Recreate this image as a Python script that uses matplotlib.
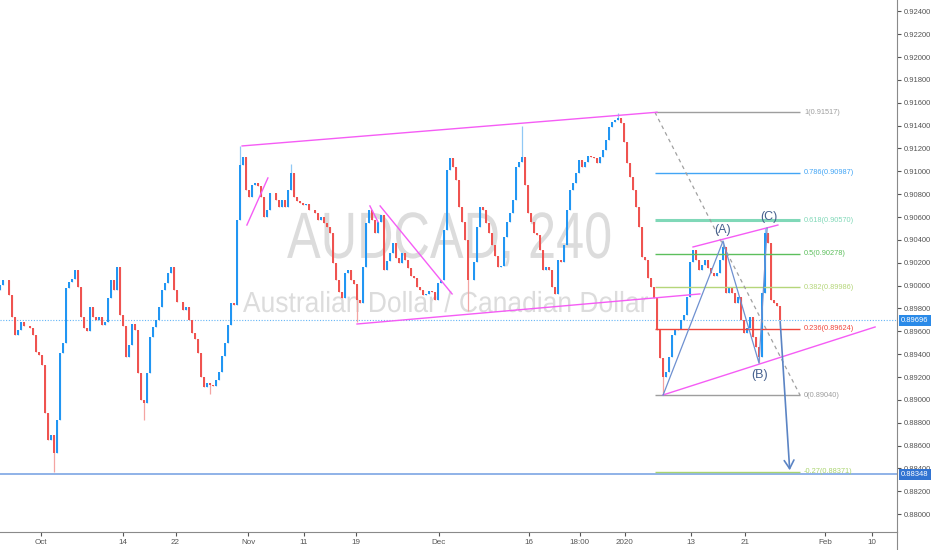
import matplotlib
matplotlib.use("Agg")
from matplotlib import pyplot as plt
from matplotlib.textpath import TextPath
from matplotlib.patches import PathPatch
from matplotlib.font_manager import FontProperties
from matplotlib.transforms import Affine2D, blended_transform_factory
from matplotlib.lines import Line2D
import numpy as np

# AUDCAD 240 closes (one every ~3 px)
closes = [
    0.90005, 0.90049, 0.90049, 0.89918, 0.89725, 0.89568, 0.89612, 0.89682, 0.89647, 0.89647,
    0.89629, 0.89568, 0.89419, 0.89393, 0.89305, 0.88885, 0.88649, 0.88693, 0.88535, 0.88824,
    0.89410, 0.89498, 0.89979, 0.90032, 0.90058, 0.90137, 0.89988, 0.89725, 0.89629, 0.89603,
    0.89813, 0.89725, 0.89699, 0.89725, 0.89655, 0.89682, 0.89892, 0.90049, 0.89962, 0.90163,
    0.89743, 0.89647, 0.89375, 0.89480, 0.89664, 0.89612, 0.89235, 0.88999, 0.88972, 0.89235,
    0.89550, 0.89638, 0.89699, 0.89813, 0.89962, 0.90023, 0.90110, 0.90163, 0.89962, 0.89857,
    0.89857, 0.89787, 0.89813, 0.89699, 0.89585, 0.89533, 0.89410, 0.89200, 0.89113, 0.89148,
    0.89130, 0.89122, 0.89174, 0.89244, 0.89384, 0.89498, 0.89655, 0.89848, 0.89830, 0.90574,
    0.91055, 0.91125, 0.90837, 0.90775, 0.90880, 0.90898, 0.90872, 0.90775, 0.90600, 0.90661,
    0.90810, 0.90810, 0.90749, 0.90687, 0.90749, 0.90687, 0.90837, 0.90985, 0.90775, 0.90740,
    0.90722, 0.90705, 0.90714, 0.90661, 0.90661, 0.90635, 0.90574, 0.90600, 0.90548, 0.90513,
    0.90460, 0.90198, 0.90049, 0.89944, 0.89892, 0.90110, 0.90137, 0.90049, 0.90014, 0.89874,
    0.89848, 0.90163, 0.90548, 0.90661, 0.90574, 0.90460, 0.90557, 0.90617, 0.90137, 0.90215,
    0.90285, 0.90373, 0.90242, 0.90198, 0.90285, 0.90224, 0.90154, 0.90084, 0.90067, 0.89988,
    0.89962, 0.89918, 0.89927, 0.89953, 0.89944, 0.89874, 0.90023, 0.90049, 0.90487, 0.91012,
    0.91116, 0.91038, 0.90924, 0.90687, 0.90557, 0.90399, 0.90049, 0.90049, 0.90207, 0.90513,
    0.90687, 0.90661, 0.90548, 0.90460, 0.90355, 0.90259, 0.90163, 0.90172, 0.90425, 0.90557,
    0.90635, 0.90749, 0.91038, 0.91082, 0.91125, 0.90880, 0.90635, 0.90557, 0.90460, 0.90443,
    0.90312, 0.90137, 0.90163, 0.90137, 0.89988, 0.89927, 0.90224, 0.90207, 0.90355, 0.90661,
    0.90837, 0.90898, 0.90985, 0.91099, 0.91038, 0.91082, 0.91134, 0.91125, 0.91116, 0.91073,
    0.91125, 0.91187, 0.91274, 0.91388, 0.91432, 0.91449, 0.91467, 0.91422, 0.91257, 0.91073,
    0.90950, 0.90837, 0.90687, 0.90513, 0.90250, 0.90224, 0.90067, 0.89988, 0.89892, 0.89612,
    0.89367, 0.89200, 0.89244, 0.89375, 0.89568, 0.89612, 0.89620, 0.89699, 0.89743, 0.89900,
    0.90207, 0.90312, 0.90224, 0.90137, 0.90180, 0.90224, 0.90154, 0.90110, 0.90084, 0.90110,
    0.90224, 0.90338, 0.89935, 0.89979, 0.89935, 0.89848, 0.89900, 0.89699, 0.89585, 0.89629,
    0.89725, 0.89550, 0.89463, 0.89375, 0.89935, 0.90460, 0.90373, 0.89874, 0.89848, 0.89822,
    0.89696,
]
first_open = 0.89960

# a few wick extremes that stick out of the bodies (bar index: price)
wick_high = {80: 0.91222, 174: 0.91400, 206: 0.91510, 241: 0.90390, 255: 0.90504, 97: 0.91060}
wick_low = {18: 0.88369, 48: 0.88824, 70: 0.89052, 119: 0.89681, 156: 0.89780, 221: 0.89040, 253: 0.89322}

# x axis labels (bar index) and price axis
xtick_pos = [13.5, 41, 58.5, 82.7, 101.3, 118.7, 146.3, 176.3, 193.3, 208.3, 230.3, 248.3, 275, 290.7]
xtick_lab = ["Oct", "14", "22", "Nov", "11", "19", "Dec", "16", "18:00", "2020", "13", "21", "Feb", "10"]
yticks = np.arange(0.880, 0.9241, 0.002)

last_price = 0.89696
target_price = 0.88348

# fibonacci retracement
fib_lvl = ["1", "0.786", "0.618", "0.5", "0.382", "0.236", "0", "-0.27"]
fib_price = [0.91517, 0.90987, 0.90570, 0.90278, 0.89986, 0.89624, 0.89040, 0.88371]
fib_col = ["#9e9e9e", "#42a5f5", "#80d8b8", "#5cbf5c", "#b5d67a", "#f0463c", "#9e9e9e", "#a9d46f"]

# drawn trend lines (bar index, price)
pink_lines = [
    [(80.7, 0.91222), (219, 0.91517)],
    [(119, 0.89664), (233.3, 0.89927)],
    [(82.3, 0.90530), (89.3, 0.90942)],
    [(123.3, 0.90697), (126, 0.90557)],
    [(126.7, 0.90697), (150.7, 0.89927)],
    [(231, 0.90338), (259.3, 0.90530)],
    [(221, 0.89043), (291.7, 0.89638)],
]
wave_x = [221, 241, 253, 255.7]
wave_y = [0.89040, 0.90390, 0.89322, 0.90504]
wave_lab = ["(A)", "(B)", "(C)"]
wave_lab_pos = [(240.7, 0.90487), (253.3, 0.89218), (256.3, 0.90600)]

fig = plt.figure(figsize=(9.32, 5.5), dpi=100)
ax = fig.add_axes([0, 18 / 550, 897 / 932, 532 / 550])
ax.set_xlim(0, 299)
ax.set_ylim(0.87844, 0.92499)


def watermark(text, x_left, y_base, width, cap_h):
    fp = FontProperties(family="Liberation Sans")
    tp = TextPath((0, 0), text, size=1, prop=fp)
    cap = TextPath((0, 0), "A", size=1, prop=fp).get_extents()
    ext = tp.get_extents()
    tr = Affine2D().translate(-ext.x0, 0).scale(width / ext.width, cap_h / cap.height) \
        .translate(x_left, y_base) + ax.transData
    ax.add_patch(PathPatch(tp, transform=tr, fc="#dcdcdc", ec="none", zorder=0))


watermark("AUDCAD, 240", 95.7, 0.90242, 107.7, 0.00394)
watermark("Australian Dollar / Canadian Dollar", 81, 0.89769, 135, 0.00175)

# candles
closes = np.array(closes)
idx = np.arange(len(closes))
opens = np.concatenate([[first_open], closes[:-1]])
highs = np.maximum(opens, closes)
lows = np.minimum(opens, closes)
for k, v in wick_high.items():
    highs[k] = v
for k, v in wick_low.items():
    lows[k] = v
up = closes >= opens
body_col = np.where(up, "#2196f3", "#ef5350")
wick_col = np.where(up, "#90c8f5", "#f4a4a2")
ax.vlines(idx, lows, highs, colors=wick_col, lw=0.9, zorder=2)
ax.bar(idx, np.abs(closes - opens), bottom=np.minimum(opens, closes), width=0.85,
       color=body_col, linewidth=0, zorder=3)

# horizontal price lines
ax.axhline(last_price, color="#64b5f6", lw=0.8, ls=(0, (1, 1.5)), zorder=1)
ax.axhline(target_price, color="#8fb2e8", lw=1.4, zorder=1)

# fibonacci
for lvl, p, c in zip(fib_lvl, fib_price, fib_col):
    ax.hlines(p, 218.3, 266.7, colors=c, lw=2.2 if lvl == "0.618" else 1.0, zorder=4)
    ax.text(268, p, f"{lvl}({p:.5f})", color=c, fontsize=5.3, va="center", ha="left",
            family="Liberation Sans", zorder=5)
ax.plot([218.3, 266.7], [fib_price[0], fib_price[6]], color="#a0a0a0", lw=0.9,
        ls=(0, (3, 3)), zorder=4)

for seg in pink_lines:
    (x0, y0), (x1, y1) = seg
    ax.plot([x0, x1], [y0, y1], color="#f55cf5", lw=1.0, zorder=5)

ax.plot(wave_x, wave_y, color="#6e90d0", lw=0.9, zorder=5)
for lab, (lx, ly) in zip(wave_lab, wave_lab_pos):
    ax.text(lx, ly, lab, color="#46618f", fontsize=9, ha="center", va="center",
            family="Liberation Sans", zorder=6)
ax.annotate("", xy=(263.3, 0.88360), xytext=(260, 0.89710),
            arrowprops=dict(arrowstyle="->,head_length=0.6,head_width=0.35", color="#5b84c4", lw=1.2),
            zorder=6)

# axes styling
for s in ["top", "left"]:
    ax.spines[s].set_visible(False)
ax.spines["right"].set_color("#8a8a8a")
ax.spines["bottom"].set_color("#8a8a8a")
ax.yaxis.tick_right()
ax.set_yticks(yticks)
ax.set_yticklabels([f"{v:.5f}" for v in yticks])
ax.set_xticks(xtick_pos)
ax.set_xticklabels(xtick_lab)
ax.tick_params(axis="y", direction="out", length=3, pad=1.5, labelsize=5.5, colors="#555555")
ax.tick_params(axis="x", direction="out", length=3, pad=2, labelsize=5.8, colors="#555555")
for t in ax.get_xticklabels() + ax.get_yticklabels():
    t.set_family("Liberation Sans")

# price labels on the right axis
btr = blended_transform_factory(ax.transAxes, ax.transData)
for p, c in [(last_price, "#2a8ae8"), (target_price, "#3274d2")]:
    ax.text(1.0045, p, f"{p:.5f}", transform=btr, color="white", fontsize=5.5, va="center",
            ha="left", family="Liberation Sans", clip_on=False, zorder=10,
            bbox=dict(boxstyle="square,pad=0.3", fc=c, ec="none"))

fig.add_artist(Line2D([897 / 932, 897 / 932], [0, 18 / 550], color="#8a8a8a", lw=0.8))

fig.savefig("out.png", dpi=100)
